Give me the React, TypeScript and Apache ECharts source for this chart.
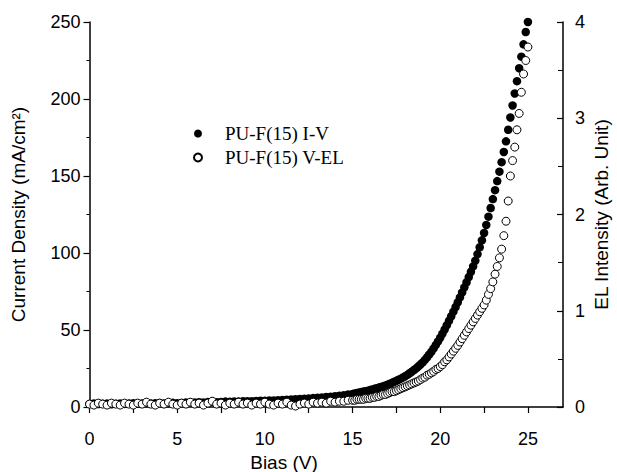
import React, { useEffect, useRef } from "react";
import * as echarts from "echarts";

// Bias (V)
const bias: number[] = [
  0, 0.25, 0.5, 0.75, 1, 1.25, 1.5, 1.75, 2, 2.25, 2.5, 2.75, 3, 3.25, 3.5, 3.75,
  4, 4.25, 4.5, 4.75, 5, 5.25, 5.5, 5.75, 6, 6.25, 6.5, 6.75, 7, 7.25, 7.5, 7.75,
  8, 8.25, 8.5, 8.75, 9, 9.25, 9.5, 9.75, 10, 10.25, 10.5, 10.75, 11, 11.25, 11.5, 11.75,
  12, 12.25, 12.5, 12.75, 13, 13.25, 13.5, 13.75, 14, 14.25, 14.5, 14.75, 15,
  15.125, 15.25, 15.375, 15.5, 15.625, 15.75, 15.875, 16,
  16.125, 16.25, 16.375, 16.5, 16.625, 16.75, 16.875, 17,
  17.125, 17.25, 17.375, 17.5, 17.625, 17.75, 17.875, 18,
  18.125, 18.25, 18.375, 18.5, 18.625, 18.75, 18.875, 19,
  19.125, 19.25, 19.375, 19.5, 19.625, 19.75, 19.875, 20,
  20.125, 20.25, 20.375, 20.5, 20.625, 20.75, 20.875, 21,
  21.125, 21.25, 21.375, 21.5, 21.625, 21.75, 21.875, 22,
  22.125, 22.25, 22.375, 22.5, 22.625, 22.75, 22.875, 23,
  23.125, 23.25, 23.375, 23.5, 23.625, 23.75, 23.875, 24,
  24.125, 24.25, 24.375, 24.5, 24.625, 24.75, 24.875, 25,
];

// Current density (mA/cm2), PU-F(15) I-V
const currentDensity: number[] = [
  2.0, 2.3, 1.9, 2.1, 2.2, 1.8, 2.1, 2.3, 2.0, 2.2, 2.4, 2.1, 2.3, 2.5, 2.2, 2.4,
  2.6, 2.3, 2.5, 2.7, 2.5, 2.6, 2.9, 2.7, 2.9, 3.1, 2.9, 3.2, 3.4, 3.1, 3.3, 3.5,
  3.4, 3.6, 3.5, 3.7, 3.8, 3.7, 3.9, 4.1, 4.0, 4.2, 4.3, 4.4, 4.6, 4.7, 4.9, 5.0,
  5.2, 5.4, 5.6, 5.8, 6.0, 6.2, 6.5, 6.7, 7.0, 7.3, 7.7, 8.1, 8.5,
  8.8, 9.1, 9.4, 9.7, 10.0, 10.3, 10.6, 11.0,
  11.4, 11.8, 12.2, 12.6, 13.0, 13.5, 14.0, 14.5,
  15.1, 15.7, 16.4, 17.0, 17.7, 18.4, 19.2, 20.0,
  20.9, 21.9, 22.9, 24.0, 25.1, 26.3, 27.6, 29.0,
  30.6, 32.3, 34.1, 36.0, 38.1, 40.3, 42.6, 45.0,
  47.6, 50.3, 53.1, 56.0, 58.9, 61.9, 64.9, 68.0,
  71.2, 74.4, 77.7, 81.0, 84.4, 87.8, 91.3, 95.0,
  99.3, 103.7, 108.2, 113.0, 118.2, 123.6, 129.2, 135.0,
  140.8, 146.7, 152.8, 159.0, 165.6, 172.5, 180.0, 188.0,
  195.8, 203.6, 211.6, 220.0, 227.5, 235.5, 243.5, 250.0,
];

// EL intensity (arb. unit), PU-F(15) V-EL
const elIntensity: number[] = [
  0.03, 0.02, 0.04, 0.03, 0.02, 0.04, 0.03, 0.02,
  0.04, 0.03, 0.02, 0.04, 0.03, 0.05, 0.03, 0.02,
  0.04, 0.03, 0.05, 0.03, 0.02, 0.04, 0.03, 0.05,
  0.03, 0.04, 0.02, 0.04, 0.06, 0.03, 0.04, 0.02,
  0.04, 0.03, 0.05, 0.03, 0.04, 0.02, 0.04, 0.03,
  0.05, 0.03, 0.02, 0.04, 0.03, 0.05, 0.02, 0.01,
  0.03, 0.04, 0.03, 0.05, 0.04, 0.05, 0.04, 0.06,
  0.05, 0.06, 0.06, 0.07, 0.07,
  0.07, 0.08, 0.08, 0.08, 0.08, 0.09, 0.09, 0.09,
  0.10, 0.10, 0.11, 0.11, 0.12, 0.13, 0.13, 0.14,
  0.15, 0.16, 0.16, 0.17, 0.18, 0.19, 0.20, 0.21,
  0.22, 0.23, 0.24, 0.25, 0.26, 0.27, 0.285, 0.30,
  0.31, 0.33, 0.34, 0.355, 0.37, 0.39, 0.40, 0.42,
  0.44, 0.47, 0.49, 0.52, 0.55, 0.58, 0.61, 0.64,
  0.675, 0.71, 0.745, 0.78, 0.815, 0.85, 0.885, 0.92,
  0.955, 0.99, 1.025, 1.06, 1.11, 1.17, 1.23, 1.30,
  1.38, 1.46, 1.55, 1.64, 1.78, 1.93, 2.14, 2.40,
  2.56, 2.70, 2.88, 3.05, 3.27, 3.46, 3.60, 3.74,
];

const seriesNames = ["PU-F(15) I-V", "PU-F(15) V-EL"];
const xLabelValues = [0, 5, 10, 15, 20, 25];
const xTickValues = [0, 2.5, 5, 7.5, 10, 12.5, 15, 17.5, 20, 22.5, 25];
const xTitle = "Bias (V)";
const yLeftTitle = "Current Density (mA/cm²)";
const yRightTitle = "EL Intensity (Arb. Unit)";

const SANS = "'Liberation Sans', Arial, sans-serif";
const SERIF = "'Liberation Serif', 'Times New Roman', serif";

export default function App() {
  const ref = useRef<HTMLDivElement>(null);

  useEffect(() => {
    if (!ref.current) return;
    const chart = echarts.init(ref.current, undefined, { renderer: "svg" });
    const ivData = bias.map((v, i) => [v, currentDensity[i]]);
    const elData = bias.map((v, i) => [v, elIntensity[i]]);
    const axisLine = { show: true, lineStyle: { color: "#000", width: 1.5 } };
    const titleStyle = { fontFamily: SANS, fontSize: 19, fill: "#000", align: "center", verticalAlign: "middle" };

    chart.setOption({
      animation: false,
      backgroundColor: "#fff",
      grid: { left: 89.5, right: 54, top: 22, bottom: 65, outerBoundsMode: "none", containLabel: false },
      legend: {
        data: [
          { name: seriesNames[0], icon: "circle" },
          { name: seriesNames[1], icon: "circle" },
        ],
        orient: "vertical",
        left: 193,
        top: 124,
        itemWidth: 8,
        itemHeight: 8,
        itemGap: 5,
        padding: 0,
        textStyle: {
          fontFamily: SERIF,
          fontSize: 19,
          color: "#000",
          padding: [0, 0, 0, 18],
          lineHeight: 18,
        },
      },
      graphic: [
        { type: "text", x: 284, y: 462, style: { text: xTitle, ...titleStyle } },
        { type: "text", x: 18, y: 214.5, rotation: Math.PI / 2, style: { text: yLeftTitle, ...titleStyle } },
        { type: "text", x: 601, y: 214.5, rotation: Math.PI / 2, style: { text: yRightTitle, ...titleStyle } },
      ],
      xAxis: {
        type: "value",
        min: 0,
        max: 27,
        position: "bottom",
        axisLine,
        axisTick: {
          show: true,
          inside: false,
          length: 6,
          customValues: xTickValues,
          lineStyle: { color: "#000", width: 1.2 },
        },
        axisLabel: {
          customValues: xLabelValues,
          margin: 23,
          fontFamily: SANS,
          fontSize: 18,
          color: "#000",
        },
        splitLine: { show: false },
      },
      yAxis: [
        {
          type: "value",
          min: 0,
          max: 250,
          interval: 50,
          position: "left",
          axisLine,
          axisTick: { show: true, inside: false, length: 6, lineStyle: { color: "#000", width: 1.2 } },
          minorTick: { show: true, splitNumber: 2, length: 3, lineStyle: { color: "#000", width: 1 } },
          axisLabel: { margin: 9, fontFamily: SANS, fontSize: 18, color: "#000" },
          splitLine: { show: false },
        },
        {
          type: "value",
          min: 0,
          max: 4,
          interval: 1,
          position: "right",
          axisLine,
          axisTick: { show: true, inside: true, length: 6, lineStyle: { color: "#000", width: 1.2 } },
          minorTick: { show: true, splitNumber: 2, length: 5, lineStyle: { color: "#000", width: 1 } },
          axisLabel: { margin: 12, fontFamily: SANS, fontSize: 18, color: "#000" },
          splitLine: { show: false },
        },
      ],
      series: [
        {
          name: seriesNames[0],
          type: "scatter",
          xAxisIndex: 0,
          yAxisIndex: 0,
          symbol: "circle",
          symbolSize: 8.5,
          itemStyle: { color: "#000", opacity: 1 },
          data: ivData,
        },
        {
          name: seriesNames[1],
          type: "scatter",
          xAxisIndex: 0,
          yAxisIndex: 1,
          symbol: "circle",
          symbolSize: 8,
          itemStyle: { color: "#fff", borderColor: "#000", borderWidth: 1, opacity: 1 },
          data: elData,
        },
      ],
    });
    return () => chart.dispose();
  }, []);

  return (
    <div
      ref={ref}
      style={{ position: "absolute", left: 0, top: 0, width: 617, height: 472, background: "#fff" }}
    />
  );
}
